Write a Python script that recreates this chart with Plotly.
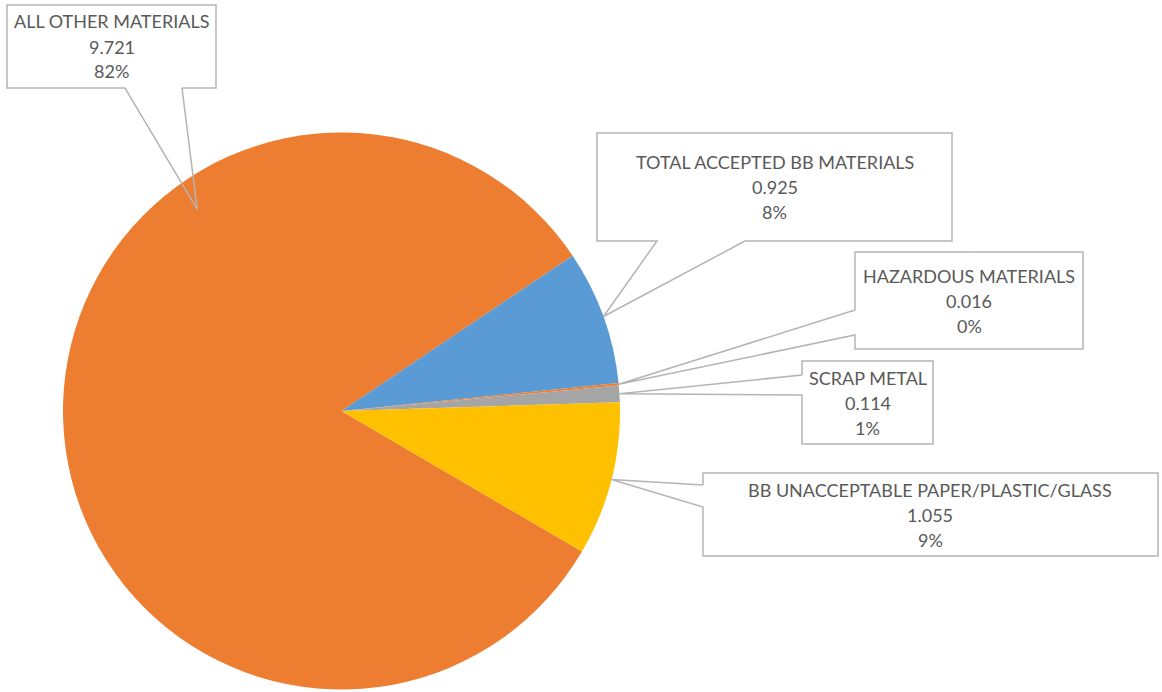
import math
import plotly.graph_objects as go

# Material breakdown (tons)
categories = [
    "ALL OTHER MATERIALS",
    "TOTAL ACCEPTED BB MATERIALS",
    "HAZARDOUS MATERIALS",
    "SCRAP METAL",
    "BB UNACCEPTABLE PAPER/PLASTIC/GLASS",
]
values = [9.721, 0.925, 0.016, 0.114, 1.055]
colors = ["#ED7D31", "#5B9BD5", "#ED7D31", "#A5A5A5", "#FFC000"]

W, H = 1162, 692
ROTATION = 120.3

# pie placement in pixels
CX, CY, R = 341.5, 411.0, 278.5

# callout boxes: (left, top, right, bottom), edge carrying the pointer,
# pointer base span along that edge, pointer position (fraction within slice, radius fraction)
callouts = [
    dict(box=(7, 5, 216, 88), edge="bottom", base=(125, 182), frac=0.69, rfrac=0.89),
    dict(box=(597, 133, 952, 241), edge="bottom", base=(657, 745), frac=0.5, rfrac=1.0),
    dict(box=(855, 252, 1083, 349), edge="left", base=(310, 335), frac=0.5, rfrac=1.0),
    dict(box=(802, 361, 933, 444), edge="left", base=(375, 395), frac=0.5, rfrac=1.0),
    dict(box=(703, 473, 1158, 556), edge="left", base=(485, 507), frac=0.5, rfrac=1.0),
]

TEXT_COLOR = "#595959"
BORDER_COLOR = "#B4B4B4"
FONT = "Lato"
FONT_SIZE = 18
LINE_GAP = 25


def px(x):
    return x / W


def py(y):
    return 1 - y / H


fig = go.Figure(
    go.Pie(
        labels=categories,
        values=values,
        marker=dict(colors=colors, line=dict(width=0)),
        sort=False,
        direction="clockwise",
        rotation=ROTATION,
        textinfo="none",
        hoverinfo="label+value+percent",
        showlegend=False,
        domain=dict(
            x=[px(CX - R), px(CX + R)],
            y=[py(CY + R), py(CY - R)],
        ),
    )
)

total = sum(values)
shapes = []
annotations = []
start = ROTATION
for name, v, c in zip(categories, values, callouts):
    span = v / total * 360
    ang = math.radians(start + span * c["frac"])
    start += span
    ax = CX + R * c["rfrac"] * math.sin(ang)
    ay = CY - R * c["rfrac"] * math.cos(ang)

    l, t, r, b = c["box"]
    b0, b1 = c["base"]
    # white box body
    shapes.append(dict(
        type="rect", xref="paper", yref="paper",
        x0=px(l), x1=px(r), y0=py(b), y1=py(t),
        fillcolor="white", line=dict(width=0), layer="above",
    ))
    # outline with the pointer wedge, open where the wedge joins the box
    if c["edge"] == "bottom":
        pts = [(b1, b), (r, b), (r, t), (l, t), (l, b), (b0, b), (ax, ay), (b1, b)]
    else:
        pts = [(l, b0), (l, t), (r, t), (r, b), (l, b), (l, b1), (ax, ay), (l, b0)]
    path = "M " + " L ".join(f"{px(x):.5f},{py(y):.5f}" for x, y in pts)
    shapes.append(dict(
        type="path", xref="paper", yref="paper", path=path,
        line=dict(color=BORDER_COLOR, width=1.5), layer="above",
    ))

    pct = round(v / total * 100)
    lines = [name, f"{v:.3f}", f"{pct}%"]
    mid_x = (l + r) / 2
    mid_y = (t + b) / 2
    for i, txt in enumerate(lines):
        annotations.append(dict(
            x=px(mid_x), y=py(mid_y + (i - 1) * LINE_GAP),
            xref="paper", yref="paper", text=txt, showarrow=False,
            xanchor="center", yanchor="middle",
            font=dict(family=FONT, size=FONT_SIZE, color=TEXT_COLOR),
        ))

fig.update_layout(
    width=W, height=H,
    margin=dict(l=0, r=0, t=0, b=0),
    paper_bgcolor="white",
    plot_bgcolor="white",
    shapes=shapes,
    annotations=annotations,
)

fig.write_html("out.html")
